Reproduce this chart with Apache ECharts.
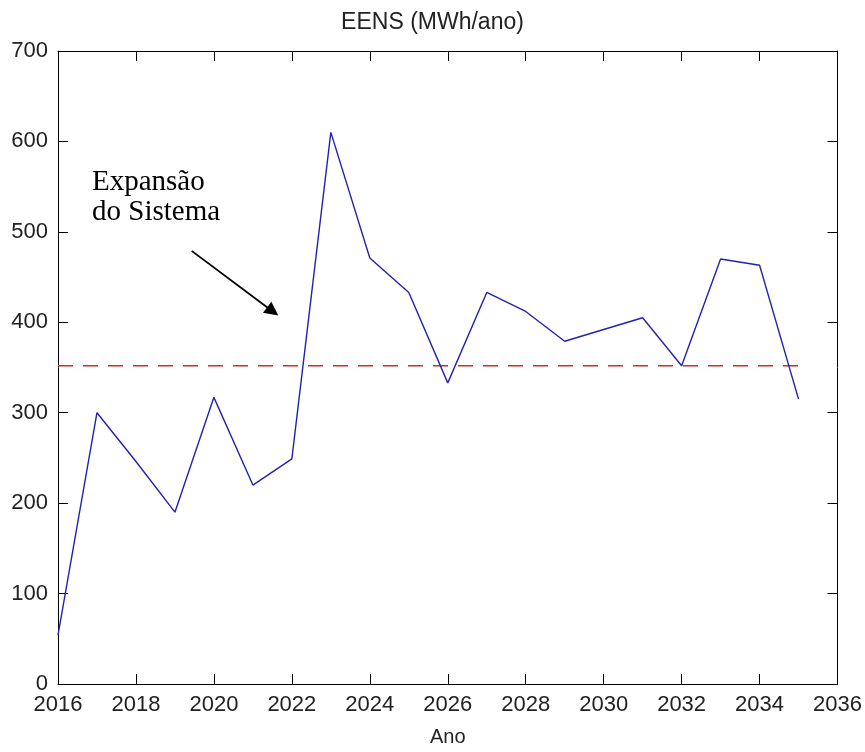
<!DOCTYPE html>
<html>
<head>
<meta charset="utf-8">
<script src="https://cdn.jsdelivr.net/npm/echarts@6/dist/echarts.min.js"></script>
<style>
  html, body { margin: 0; padding: 0; background: #fff; }
  #chart { width: 865px; height: 752px; }
</style>
</head>
<body>
<div id="chart"></div>
<script>
// Anos simulados e energia esperada não suprida (MWh/ano)
const anos = [2016, 2017, 2018, 2019, 2020, 2021, 2022, 2023, 2024, 2025,
              2026, 2027, 2028, 2029, 2030, 2031, 2032, 2033, 2034, 2035];
const eens = [54, 300, 246, 190, 317, 220, 249, 610, 471, 433,
              333, 433, 412, 379, 392, 405, 352, 470, 463, 315];

// Valor de referência (linha tracejada) e seu intervalo de anos
const referencia = 352;
const refAnos = [2016, 2035];

// Seta da anotação "Expansão do Sistema" (coordenadas em ano / MWh)
const setaInicio = [2019.43, 479];
const setaFim = [2021.51, 412];

// Eixos
const xMin = 2016, xMax = 2036, xPasso = 2;
const yMin = 0, yMax = 700, yPasso = 100;

const fonte = '"Liberation Sans", Arial, sans-serif';
const corTexto = '#222';

const chart = echarts.init(document.getElementById('chart'), null, { renderer: 'canvas' });

const eixoBase = {
  type: 'value',
  axisLine: { show: true, onZero: false, lineStyle: { color: '#000', width: 1 } },
  axisTick: { show: true, inside: true, length: 10, lineStyle: { color: '#000', width: 1 } },
  splitLine: { show: false }
};

chart.setOption({
  animation: false,
  backgroundColor: '#fff',
  title: {
    text: 'EENS (MWh/ano)',
    left: 'center',
    top: 11,
    padding: 0,
    textStyle: { fontFamily: fonte, fontSize: 23, fontWeight: 'normal', color: corTexto }
  },
  grid: { left: 58, right: 27, top: 51, bottom: 66, containLabel: false },
  xAxis: [
    Object.assign({}, eixoBase, {
      min: xMin, max: xMax, interval: xPasso, position: 'bottom',
      name: 'Ano', nameLocation: 'middle', nameGap: 43,
      nameTextStyle: { fontFamily: fonte, fontSize: 20, color: corTexto },
      axisLabel: {
        fontFamily: fonte, fontSize: 22, color: corTexto, margin: 10,
        formatter: v => String(v)
      }
    }),
    Object.assign({}, eixoBase, {
      min: xMin, max: xMax, interval: xPasso, position: 'top',
      axisLabel: { show: false }
    })
  ],
  yAxis: [
    Object.assign({}, eixoBase, {
      min: yMin, max: yMax, interval: yPasso, position: 'left',
      axisLabel: { fontFamily: fonte, fontSize: 22, color: corTexto, margin: 10 }
    }),
    Object.assign({}, eixoBase, {
      min: yMin, max: yMax, interval: yPasso, position: 'right',
      axisLabel: { show: false }
    })
  ],
  series: [
    {
      name: 'EENS',
      type: 'line',
      xAxisIndex: 0, yAxisIndex: 0,
      data: anos.map((a, i) => [a, eens[i]]),
      showSymbol: false,
      symbol: 'none',
      lineStyle: { color: '#2222b0', width: 1.4 },
      z: 3,
      markLine: {
        silent: true,
        symbol: ['none', 'triangle'],
        symbolSize: 14,
        label: { show: false },
        lineStyle: { color: '#000', width: 1.8, type: 'solid' },
        data: [[
          { coord: setaInicio },
          { coord: setaFim }
        ]]
      }
    },
    {
      name: 'Referência',
      type: 'line',
      xAxisIndex: 0, yAxisIndex: 0,
      data: refAnos.map(a => [a, referencia]),
      showSymbol: false,
      symbol: 'none',
      lineStyle: { color: '#d62828', width: 1.6, type: [15, 10] },
      z: 2
    }
  ],
  graphic: [
    {
      type: 'text',
      left: 92,
      top: 167,
      style: {
        text: 'Expansão\ndo Sistema',
        font: '29px "Liberation Serif", "Times New Roman", serif',
        lineHeight: 30,
        fill: '#000'
      }
    }
  ]
});
</script>
</body>
</html>
